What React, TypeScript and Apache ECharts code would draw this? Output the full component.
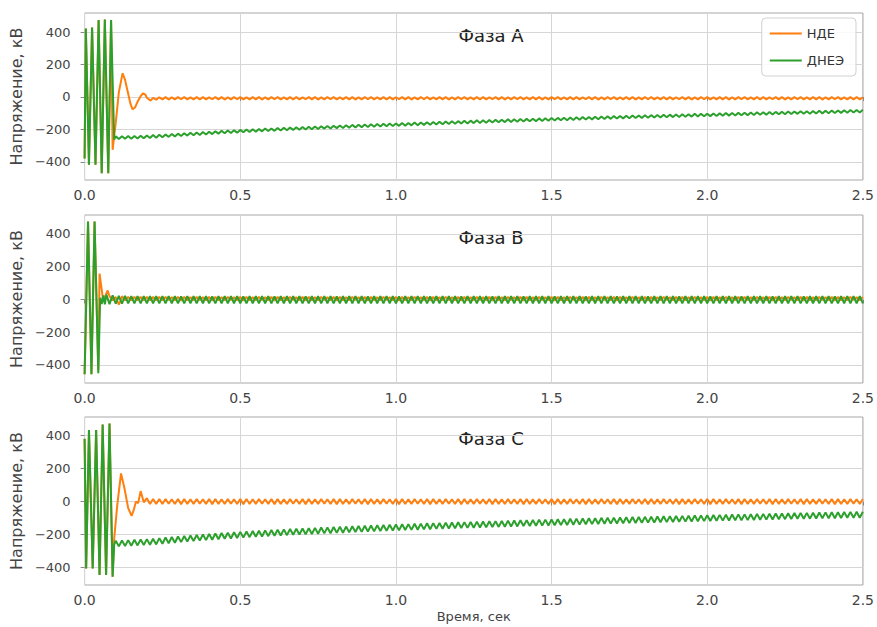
import React, { useEffect, useRef } from "react";
import * as echarts from "echarts";

// ---- axis / tick labels ----
const X_TICKS = [0, 0.5, 1.0, 1.5, 2.0, 2.5];
const Y_TICKS = [-400, -200, 0, 200, 400];
const TITLES = ["Фаза А", "Фаза В", "Фаза С"];
const SERIES_NAMES = ["НДЕ", "ДНЕЭ"];
const Y_NAME = "Напряжение, кВ";
const X_NAME = "Время, сек";

// steady-state samples start at T0 with step DT (seconds)
const T0 = 0.25;
const DT = 0.01;

// ---- Phase A ----
const ndeA_transient = [
  [0, -380], [0.004, 423], [0.014, -418], [0.024, 429], [0.035, -418], [0.045, 474], [0.055, -470],
  [0.065, 478], [0.076, -470], [0.085, 474], [0.09, -326], [0.10, -160], [0.11, 30], [0.122, 146],
  [0.13, 105], [0.14, 20], [0.147, -40], [0.154, -76], [0.162, -65], [0.17, -30], [0.18, 5],
  [0.188, 23], [0.195, 15], [0.20, -5], [0.212, -23], [0.22, -5], [0.23, -16], [0.24, -2],
];
const ndeA_steady = [
  -15, -1, -16, -2, -15, -1, -14, -1, -15, -2,
  -15, -1, -16, -1, -15, -2, -14, -1, -15, -1,
  -16, -2, -15, -1, -14, -1, -15, -2, -15, -1,
  -15, -1, -16, -2, -15, -1, -14, -1, -15, -2,
  -15, -1, -16, -1, -15, -2, -14, -1, -15, -1,
  -16, -2, -15, -1, -14, -1, -15, -2, -15, -1,
  -15, -1, -16, -2, -15, -1, -14, -1, -15, -2,
  -15, -1, -16, -1, -15, -2, -14, -1, -15, -1,
  -16, -2, -15, -1, -14, -1, -15, -2, -15, -1,
  -15, -1, -16, -2, -15, -1, -14, -1, -15, -2,
  -15, -1, -16, -1, -15, -2, -14, -1, -15, -1,
  -16, -2, -15, -1, -14, -1, -15, -2, -15, -1,
  -15, -1, -16, -2, -15, -1, -14, -1, -15, -2,
  -15, -1, -16, -1, -15, -2, -14, -1, -15, -1,
  -16, -2, -15, -1, -14, -1, -15, -2, -15, -1,
  -15, -1, -16, -2, -15, -1, -14, -1, -15, -2,
  -15, -1, -16, -1, -15, -2, -14, -1, -15, -1,
  -16, -2, -15, -1, -14, -1, -15, -2, -15, -1,
  -15, -1, -16, -2, -15, -1, -14, -1, -15, -2,
  -15, -1, -16, -1, -15, -2, -14, -1, -15, -1,
  -16, -2, -15, -1, -14, -1, -15, -2, -15, -1,
  -15, -1, -16, -2, -15, -1, -14, -1, -15, -2,
  -15, -1, -16, -1, -15, -2,
];
const dneeA_transient = [
  [0, -380], [0.004, 423], [0.014, -418], [0.024, 429], [0.035, -418], [0.045, 474], [0.055, -470],
  [0.065, 478], [0.076, -470], [0.085, 474], [0.095, -262], [0.10, -243], [0.11, -259], [0.12, -242],
  [0.13, -258], [0.14, -241], [0.15, -257], [0.16, -240], [0.17, -256], [0.18, -239], [0.19, -255],
  [0.20, -237], [0.21, -253], [0.22, -235], [0.23, -251], [0.24, -233],
];
const dneeA_steady = [
  -248, -231, -246, -228, -243, -226, -241, -224, -238, -221,
  -236, -219, -234, -216, -231, -214, -229, -212, -226, -209,
  -224, -207, -222, -205, -220, -203, -218, -201, -216, -199,
  -214, -197, -212, -195, -210, -194, -209, -192, -207, -190,
  -205, -188, -203, -187, -202, -185, -200, -184, -199, -182,
  -197, -180, -195, -179, -194, -177, -192, -176, -191, -174,
  -189, -172, -188, -171, -186, -170, -185, -168, -184, -167,
  -182, -165, -181, -164, -179, -163, -178, -161, -177, -160,
  -175, -158, -174, -157, -172, -156, -171, -154, -170, -153,
  -168, -151, -167, -150, -165, -149, -164, -147, -163, -146,
  -161, -144, -160, -143, -159, -142, -157, -141, -156, -140,
  -155, -138, -154, -137, -153, -136, -151, -135, -150, -134,
  -149, -132, -148, -131, -147, -130, -145, -129, -144, -128,
  -143, -126, -142, -125, -141, -124, -139, -123, -138, -122,
  -137, -120, -136, -119, -135, -118, -133, -117, -132, -116,
  -131, -114, -130, -114, -129, -113, -128, -112, -127, -111,
  -126, -109, -125, -109, -124, -108, -123, -107, -122, -106,
  -121, -104, -120, -104, -119, -103, -118, -102, -117, -101,
  -116, -99, -115, -99, -114, -98, -113, -97, -112, -96,
  -111, -94, -110, -94, -109, -93, -108, -92, -107, -91,
  -106, -90, -105, -89, -104, -88, -104, -88, -103, -87,
  -102, -85, -101, -85, -100, -84, -99, -83, -98, -82,
  -97, -80, -96, -80, -96, -79,
];

// ---- Phase B ----
const ndeB_transient = [
  [0, -457], [0.011, 476], [0.022, -457], [0.032, 476], [0.044, -430], [0.048, 158], [0.055, 60],
  [0.06, -15], [0.065, 15], [0.074, 55], [0.08, 20], [0.09, -5], [0.10, 15], [0.11, -31], [0.115, -10],
  [0.12, 20], [0.13, -5], [0.14, 15], [0.15, -5], [0.16, 15], [0.17, -5], [0.18, 15], [0.19, -5],
  [0.20, 15], [0.21, -5], [0.22, 15], [0.23, -5], [0.24, 15],
];
const ndeB_steady = [
  -5, 15, -4, 14, -5, 15, -6, 15, -5, 14,
  -5, 15, -4, 14, -5, 15, -6, 15, -5, 14,
  -5, 15, -4, 14, -5, 15, -6, 15, -5, 14,
  -5, 15, -4, 14, -5, 15, -6, 15, -5, 14,
  -5, 15, -4, 14, -5, 15, -6, 15, -5, 14,
  -5, 15, -4, 14, -5, 15, -6, 15, -5, 14,
  -5, 15, -4, 14, -5, 15, -6, 15, -5, 14,
  -5, 15, -4, 14, -5, 15, -6, 15, -5, 14,
  -5, 15, -4, 14, -5, 15, -6, 15, -5, 14,
  -5, 15, -4, 14, -5, 15, -6, 15, -5, 14,
  -5, 15, -4, 14, -5, 15, -6, 15, -5, 14,
  -5, 15, -4, 14, -5, 15, -6, 15, -5, 14,
  -5, 15, -4, 14, -5, 15, -6, 15, -5, 14,
  -5, 15, -4, 14, -5, 15, -6, 15, -5, 14,
  -5, 15, -4, 14, -5, 15, -6, 15, -5, 14,
  -5, 15, -4, 14, -5, 15, -6, 15, -5, 14,
  -5, 15, -4, 14, -5, 15, -6, 15, -5, 14,
  -5, 15, -4, 14, -5, 15, -6, 15, -5, 14,
  -5, 15, -4, 14, -5, 15, -6, 15, -5, 14,
  -5, 15, -4, 14, -5, 15, -6, 15, -5, 14,
  -5, 15, -4, 14, -5, 15, -6, 15, -5, 14,
  -5, 15, -4, 14, -5, 15, -6, 15, -5, 14,
  -5, 15, -4, 14, -5, 15,
];
const dneeB_transient = [
  [0, -457], [0.011, 476], [0.022, -457], [0.032, 476], [0.044, -450], [0.05, 10], [0.055, -28],
  [0.06, 25], [0.065, -30], [0.07, 30], [0.08, -28], [0.09, 25], [0.10, -25], [0.11, 22], [0.12, -26],
  [0.13, 22], [0.14, -24], [0.15, 21], [0.16, -24], [0.17, 21], [0.18, -24], [0.19, 20], [0.20, -24],
  [0.21, 20], [0.22, -24], [0.23, 20], [0.24, -24],
];
const dneeB_steady = [
  20, -24, 21, -23, 20, -24, 19, -24, 21, -23,
  20, -24, 21, -23, 20, -24, 19, -24, 21, -23,
  20, -24, 21, -23, 20, -24, 19, -24, 21, -23,
  20, -24, 21, -23, 20, -24, 19, -24, 21, -23,
  20, -24, 21, -23, 20, -24, 19, -24, 21, -23,
  20, -24, 21, -23, 20, -24, 19, -24, 21, -23,
  20, -24, 21, -23, 20, -24, 19, -24, 21, -23,
  20, -24, 21, -23, 20, -24, 19, -24, 21, -23,
  20, -24, 21, -23, 20, -24, 19, -24, 21, -23,
  20, -24, 21, -23, 20, -24, 19, -24, 21, -23,
  20, -24, 21, -23, 20, -24, 19, -24, 21, -23,
  20, -24, 21, -23, 20, -24, 19, -24, 21, -23,
  20, -24, 21, -23, 20, -24, 19, -24, 21, -23,
  20, -24, 21, -23, 20, -24, 19, -24, 21, -23,
  20, -24, 21, -23, 20, -24, 19, -24, 21, -23,
  20, -24, 21, -23, 20, -24, 19, -24, 21, -23,
  20, -24, 21, -23, 20, -24, 19, -24, 21, -23,
  20, -24, 21, -23, 20, -24, 19, -24, 21, -23,
  20, -24, 21, -23, 20, -24, 19, -24, 21, -23,
  20, -24, 21, -23, 20, -24, 19, -24, 21, -23,
  20, -24, 21, -23, 20, -24, 19, -24, 21, -23,
  20, -24, 21, -23, 20, -24, 19, -24, 21, -23,
  20, -24, 21, -23, 20, -24,
];

// ---- Phase C ----
const ndeC_transient = [
  [0, 380], [0.005, -406], [0.014, 433], [0.026, -406], [0.037, 433], [0.048, -446], [0.058, 467],
  [0.069, -446], [0.08, 473], [0.09, -456], [0.095, -225], [0.105, -20], [0.117, 170], [0.128, 80],
  [0.14, -40], [0.151, -87], [0.158, -50], [0.165, 0], [0.172, -10], [0.18, 63], [0.19, -5], [0.20, 20],
  [0.21, -15], [0.22, 15], [0.23, -15], [0.24, 15],
];
const ndeC_steady = [
  -15, 15, -14, 14, -15, 15, -16, 15, -15, 14,
  -15, 15, -14, 14, -15, 15, -16, 15, -15, 14,
  -15, 15, -14, 14, -15, 15, -16, 15, -15, 14,
  -15, 15, -14, 14, -15, 15, -16, 15, -15, 14,
  -15, 15, -14, 14, -15, 15, -16, 15, -15, 14,
  -15, 15, -14, 14, -15, 15, -16, 15, -15, 14,
  -15, 15, -14, 14, -15, 15, -16, 15, -15, 14,
  -15, 15, -14, 14, -15, 15, -16, 15, -15, 14,
  -15, 15, -14, 14, -15, 15, -16, 15, -15, 14,
  -15, 15, -14, 14, -15, 15, -16, 15, -15, 14,
  -15, 15, -14, 14, -15, 15, -16, 15, -15, 14,
  -15, 15, -14, 14, -15, 15, -16, 15, -15, 14,
  -15, 15, -14, 14, -15, 15, -16, 15, -15, 14,
  -15, 15, -14, 14, -15, 15, -16, 15, -15, 14,
  -15, 15, -14, 14, -15, 15, -16, 15, -15, 14,
  -15, 15, -14, 14, -15, 15, -16, 15, -15, 14,
  -15, 15, -14, 14, -15, 15, -16, 15, -15, 14,
  -15, 15, -14, 14, -15, 15, -16, 15, -15, 14,
  -15, 15, -14, 14, -15, 15, -16, 15, -15, 14,
  -15, 15, -14, 14, -15, 15, -16, 15, -15, 14,
  -15, 15, -14, 14, -15, 15, -16, 15, -15, 14,
  -15, 15, -14, 14, -15, 15, -16, 15, -15, 14,
  -15, 15, -14, 14, -15, 15,
];
const dneeC_transient = [
  [0, 380], [0.005, -406], [0.014, 433], [0.026, -406], [0.037, 433], [0.048, -446], [0.058, 467],
  [0.069, -446], [0.08, 473], [0.09, -456], [0.095, -262], [0.10, -238], [0.11, -272], [0.12, -236],
  [0.13, -270], [0.14, -234], [0.15, -268], [0.16, -232], [0.17, -266], [0.18, -230], [0.19, -264],
  [0.20, -228], [0.21, -262], [0.22, -226], [0.23, -260], [0.24, -222],
];
const dneeC_steady = [
  -256, -218, -253, -215, -250, -212, -246, -209, -243, -206,
  -240, -203, -237, -200, -234, -197, -232, -194, -229, -191,
  -226, -189, -224, -186, -221, -184, -219, -182, -216, -179,
  -214, -177, -212, -175, -210, -173, -208, -171, -206, -169,
  -204, -167, -202, -165, -200, -164, -199, -162, -197, -160,
  -195, -158, -193, -157, -192, -155, -190, -153, -189, -152,
  -187, -150, -185, -149, -184, -147, -182, -145, -181, -144,
  -179, -142, -178, -141, -176, -139, -175, -138, -173, -137,
  -172, -135, -171, -134, -169, -132, -168, -131, -166, -130,
  -165, -128, -164, -127, -163, -126, -161, -125, -160, -124,
  -159, -122, -158, -121, -157, -120, -155, -119, -154, -118,
  -153, -116, -152, -115, -151, -114, -149, -113, -148, -112,
  -147, -110, -146, -110, -145, -109, -144, -108, -143, -107,
  -142, -105, -141, -104, -140, -103, -138, -102, -137, -101,
  -136, -99, -135, -99, -134, -98, -133, -97, -132, -96,
  -131, -94, -130, -94, -129, -93, -128, -92, -127, -91,
  -126, -89, -125, -89, -124, -88, -123, -87, -122, -86,
  -121, -84, -120, -84, -119, -83, -118, -82, -117, -81,
  -116, -80, -115, -79, -114, -78, -114, -78, -113, -77,
  -112, -75, -111, -75, -110, -74, -109, -73, -108, -72,
  -107, -71, -106, -70, -105, -69, -105, -69, -104, -68,
  -103, -67, -102, -66, -101, -65, -101, -65, -100, -64,
  -99, -63, -99, -62, -98, -62,
];

// y-ranges of each panel
const Y_MIN = [-512, -510, -506];
const Y_MAX = [518, 516, 512];

const FONT = "'DejaVu Sans', sans-serif";
const ORANGE = "#ff7f0e";
const GREEN = "#2ca02c";

function build(transient: number[][], steady: number[]) {
  return transient.concat(
    steady.map((v, i) => [Math.round((T0 + i * DT) * 1000) / 1000, v])
  );
}

const minus = (v: number) => (v < 0 ? "\u2212" + Math.abs(v) : String(v));

export default function App() {
  const ref = useRef<HTMLDivElement>(null);
  useEffect(() => {
    if (!ref.current) return;
    const chart = echarts.init(ref.current, undefined, { renderer: "svg" });
    const gridTops = [13, 215, 417];
    const gridHeights = [167, 168, 168];
    const grid = gridTops.map((top, i) => ({
      left: 80,
      top,
      width: 785,
      height: gridHeights[i],
      show: true,
      borderColor: "#a8a8a8",
      borderWidth: 1,
      backgroundColor: "transparent",
      containLabel: false,
    }));
    const xAxis = gridTops.map((_, i) => ({
      type: "value",
      gridIndex: i,
      min: X_TICKS[0],
      max: X_TICKS[X_TICKS.length - 1],
      interval: 0.5,
      axisLine: { show: false },
      axisTick: { show: true, length: 4, lineStyle: { color: "#888" } },
      splitLine: { show: true, lineStyle: { color: "#d6d6d6", width: 1 } },
      axisLabel: {
        color: "#444",
        fontSize: 14,
        fontFamily: FONT,
        margin: 8,
        formatter: (v: number) => v.toFixed(1),
      },
      name: i === 2 ? X_NAME : "",
      nameLocation: "middle",
      nameGap: 25,
      nameTextStyle: { color: "#444", fontSize: 13, fontFamily: FONT },
    }));
    const yAxis = gridTops.map((_, i) => ({
      type: "value",
      gridIndex: i,
      min: Y_MIN[i],
      max: Y_MAX[i],
      axisLine: { show: false },
      axisTick: { show: true, length: 4, customValues: Y_TICKS, lineStyle: { color: "#888" } },
      splitLine: { show: true, lineStyle: { color: "#d6d6d6", width: 1 } },
      axisLabel: {
        customValues: Y_TICKS,
        color: "#444",
        fontSize: 13,
        fontFamily: FONT,
        margin: 14,
        formatter: minus,
      },
      name: Y_NAME,
      nameLocation: "middle",
      nameGap: 43,
      nameRotate: 90,
      nameTextStyle: { color: "#444", fontSize: 16, fontFamily: FONT },
    }));
    const panels = [
      [ndeA_transient, ndeA_steady, dneeA_transient, dneeA_steady],
      [ndeB_transient, ndeB_steady, dneeB_transient, dneeB_steady],
      [ndeC_transient, ndeC_steady, dneeC_transient, dneeC_steady],
    ];
    const series: any[] = [];
    panels.forEach((p, i) => {
      series.push({
        type: "line",
        name: SERIES_NAMES[0],
        xAxisIndex: i,
        yAxisIndex: i,
        data: build(p[0] as number[][], p[1] as number[]),
        symbol: "none",
        lineStyle: { color: ORANGE, width: 2 },
        itemStyle: { color: ORANGE },
      });
      series.push({
        type: "line",
        name: SERIES_NAMES[1],
        xAxisIndex: i,
        yAxisIndex: i,
        data: build(p[2] as number[][], p[3] as number[]),
        symbol: "none",
        lineStyle: { color: GREEN, width: 2 },
        itemStyle: { color: GREEN },
      });
    });
    const titleY = [35, 237, 438];
    chart.setOption({
      animation: false,
      backgroundColor: "#fff",
      grid,
      xAxis,
      yAxis,
      series,
      legend: {
        data: SERIES_NAMES.map((n) => ({ name: n, icon: "rect" })),
        orient: "vertical",
        right: 21,
        top: 18,
        itemWidth: 32,
        itemHeight: 2,
        itemGap: 14,
        padding: [9, 12, 9, 8],
        backgroundColor: "rgba(255,255,255,0.85)",
        borderColor: "#d0d0d0",
        borderWidth: 1,
        borderRadius: 4,
        textStyle: { color: "#333", fontSize: 13, fontFamily: FONT },
      },
      graphic: TITLES.map((t, i) => ({
        type: "text",
        x: 491,
        y: titleY[i],
        style: {
          text: t,
          fontSize: 18,
          fontFamily: FONT,
          fill: "#222",
          textAlign: "center",
          textVerticalAlign: "middle",
        },
      })),
    });
    return () => chart.dispose();
  }, []);
  return (
    <div
      ref={ref}
      style={{ position: "fixed", left: 0, top: 0, width: 877, height: 627, background: "#fff" }}
    />
  );
}
